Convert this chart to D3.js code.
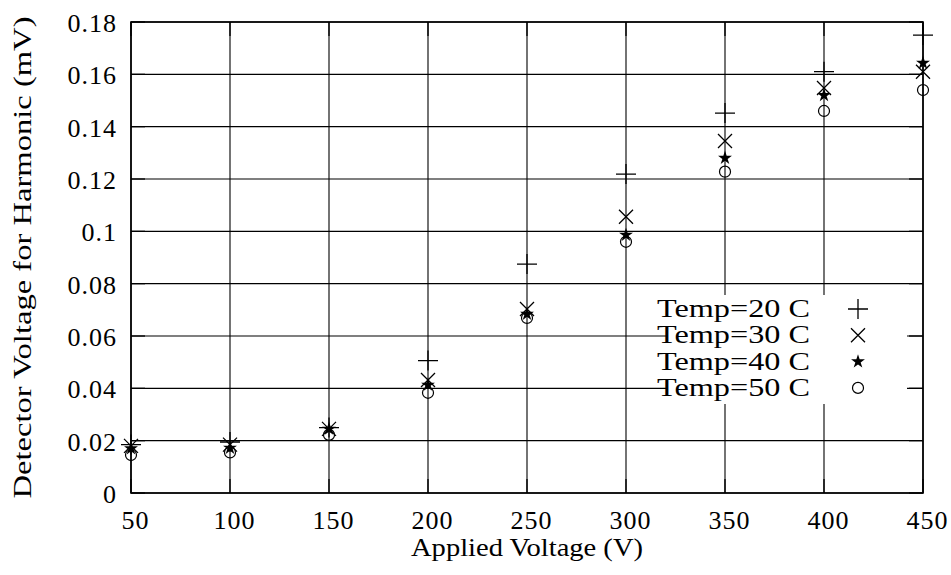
<!DOCTYPE html>
<html>
<head>
  <script src="https://d3js.org/d3.v7.min.js"></script>
  <style>
    body { margin: 0; background: #fff; }
    text { font-family: "Liberation Serif", "Times New Roman", serif; fill: #000; }
  </style>
</head>
<body>
  <svg id="chart"></svg>
  <script>
    // data
    var voltages = [50, 100, 150, 200, 250, 300, 350, 400, 450];
    var temp20 = [0.0185, 0.0195, 0.0250, 0.0506, 0.0875, 0.1219, 0.1452, 0.1610, 0.1750];
    var temp30 = [0.0180, 0.0185, 0.0245, 0.0432, 0.0703, 0.1056, 0.1345, 0.1548, 0.1610];
    var temp40 = [0.0170, 0.0172, 0.0245, 0.0413, 0.0684, 0.0986, 0.1280, 0.1520, 0.1643];
    var temp50 = [0.0145, 0.0155, 0.0222, 0.0383, 0.0669, 0.0960, 0.1228, 0.1460, 0.1540];
    var seriesNames = ["Temp=20 C", "Temp=30 C", "Temp=40 C", "Temp=50 C"];
    var xTicks = [50, 100, 150, 200, 250, 300, 350, 400, 450];
    var yTicks = [0, 0.02, 0.04, 0.06, 0.08, 0.1, 0.12, 0.14, 0.16, 0.18];
    var yTickLabels = ["0", "0.02", "0.04", "0.06", "0.08", "0.1", "0.12", "0.14", "0.16", "0.18"];

    var width = 951, height = 575;
    var margin = { top: 22, right: 28, bottom: 82, left: 131 };
    var innerWidth = width - margin.left - margin.right;
    var innerHeight = height - margin.top - margin.bottom;

    var svg = d3.select("#chart")
      .attr("width", width)
      .attr("height", height);

    var x = d3.scaleLinear().domain([50, 450]).range([margin.left, margin.left + innerWidth]);
    var y = d3.scaleLinear().domain([0, 0.18]).range([margin.top + innerHeight, margin.top]);

    // grid
    svg.append("g").selectAll("line").data(xTicks).enter().append("line")
      .attr("x1", d => x(d)).attr("x2", d => x(d))
      .attr("y1", y(0)).attr("y2", y(0.18))
      .attr("stroke", "#000").attr("stroke-width", 1.1);
    svg.append("g").selectAll("line").data(yTicks).enter().append("line")
      .attr("x1", x(50)).attr("x2", x(450))
      .attr("y1", d => y(d)).attr("y2", d => y(d))
      .attr("stroke", "#000").attr("stroke-width", 1.1);

    // opaque key box (narrower than its text, as gnuplot estimated it)
    var keyTop = 295, keyLeft = 667, keyRight = 907, keyBottom = 404;
    svg.append("rect")
      .attr("x", keyLeft).attr("y", keyTop)
      .attr("width", keyRight - keyLeft).attr("height", keyBottom - keyTop)
      .attr("fill", "#fff");

    // inward ticks on all four sides
    var tickLen = 14;
    var ticks = svg.append("g").attr("stroke", "#000").attr("stroke-width", 1.3);
    xTicks.forEach(function(t) {
      ticks.append("line").attr("x1", x(t)).attr("x2", x(t)).attr("y1", y(0)).attr("y2", y(0) - tickLen);
      ticks.append("line").attr("x1", x(t)).attr("x2", x(t)).attr("y1", y(0.18)).attr("y2", y(0.18) + tickLen);
    });
    yTicks.forEach(function(t) {
      ticks.append("line").attr("x1", x(50)).attr("x2", x(50) + tickLen).attr("y1", y(t)).attr("y2", y(t));
      ticks.append("line").attr("x1", x(450)).attr("x2", x(450) - tickLen).attr("y1", y(t)).attr("y2", y(t));
    });

    // border
    svg.append("rect")
      .attr("x", x(50)).attr("y", y(0.18))
      .attr("width", x(450) - x(50)).attr("height", y(0) - y(0.18))
      .attr("fill", "none").attr("stroke", "#000").attr("stroke-width", 1.6);

    // tick labels via d3 axes
    var xAxis = svg.append("g")
      .attr("transform", "translate(4," + y(0) + ")")
      .call(d3.axisBottom(x).tickValues(xTicks).tickSize(0).tickPadding(18));
    xAxis.select(".domain").remove();
    xAxis.selectAll("text")
      .style("font-family", "Liberation Serif").style("font-size", "26px")
      .attr("letter-spacing", "1px").attr("dy", "0.71em");

    var yAxis = svg.append("g")
      .attr("transform", "translate(" + x(50) + ",0)")
      .call(d3.axisLeft(y).tickValues(yTicks).tickSize(0).tickPadding(14)
        .tickFormat((d, i) => yTickLabels[i]));
    yAxis.select(".domain").remove();
    yAxis.selectAll("text")
      .style("font-family", "Liberation Serif").style("font-size", "26px")
      .attr("letter-spacing", "1px").attr("dy", "0.36em");

    svg.append("text")
      .attr("x", (x(50) + x(450)) / 2).attr("y", 556)
      .attr("text-anchor", "middle")
      .attr("textLength", 232).attr("lengthAdjust", "spacingAndGlyphs")
      .style("font-size", "26px")
      .text("Applied Voltage (V)");

    svg.append("text")
      .attr("transform", "translate(31," + ((y(0) + y(0.18)) / 2) + ") rotate(-90)")
      .attr("text-anchor", "middle")
      .attr("textLength", 482).attr("lengthAdjust", "spacingAndGlyphs")
      .style("font-size", "26px")
      .text("Detector Voltage for Harmonic (mV)");

    // markers
    function drawMarker(g, kind, cx, cy) {
      if (kind === 0) {
        g.append("path")
          .attr("d", "M" + (cx - 10) + "," + cy + "H" + (cx + 10) + "M" + cx + "," + (cy - 10) + "V" + (cy + 10))
          .attr("stroke", "#000").attr("stroke-width", 1.3).attr("fill", "none");
      } else if (kind === 1) {
        g.append("path")
          .attr("d", "M" + (cx - 7) + "," + (cy - 7) + "L" + (cx + 7) + "," + (cy + 7) +
                     "M" + (cx - 7) + "," + (cy + 7) + "L" + (cx + 7) + "," + (cy - 7))
          .attr("stroke", "#000").attr("stroke-width", 1.3).attr("fill", "none");
      } else if (kind === 2) {
        g.append("path")
          .attr("d", d3.symbol().type(d3.symbolStar).size(60)())
          .attr("transform", "translate(" + cx + "," + cy + ")")
          .attr("fill", "#000");
      } else {
        g.append("circle")
          .attr("cx", cx).attr("cy", cy).attr("r", 5.5)
          .attr("stroke", "#000").attr("stroke-width", 1.2).attr("fill", "none");
      }
    }

    var allSeries = [temp20, temp30, temp40, temp50];
    var points = svg.append("g");
    allSeries.forEach(function(vals, k) {
      vals.forEach(function(v, i) {
        drawMarker(points, k, x(voltages[i]), y(v));
      });
    });

    // key
    var key = svg.append("g");
    seriesNames.forEach(function(name, k) {
      var base = 317 + k * 26.3;
      key.append("text")
        .attr("x", 810).attr("y", base)
        .attr("text-anchor", "end")
        .attr("textLength", 153).attr("lengthAdjust", "spacingAndGlyphs")
        .style("font-size", "26px")
        .text(name);
      drawMarker(key, k, 858, base - 8);
    });
  </script>
</body>
</html>
